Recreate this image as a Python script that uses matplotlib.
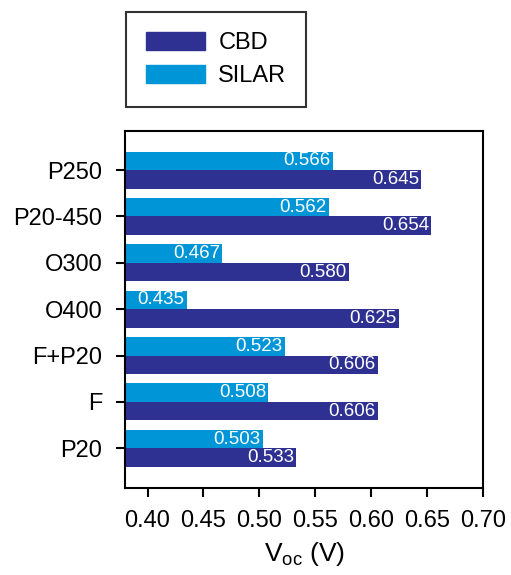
import numpy as np
import matplotlib.pyplot as plt
from matplotlib.patches import Patch

plt.rcParams['font.family'] = ['Liberation Sans', 'DejaVu Sans']

categories = ['P250', 'P20-450', 'O300', 'O400', 'F+P20', 'F', 'P20']
cbd = [0.645, 0.654, 0.580, 0.625, 0.606, 0.606, 0.533]
silar = [0.566, 0.562, 0.467, 0.435, 0.523, 0.508, 0.503]
xticks = [0.40, 0.45, 0.50, 0.55, 0.60, 0.65, 0.70]

c_cbd = '#2e3192'
c_silar = '#0095d6'

fig = plt.figure(figsize=(5.11, 5.75), dpi=100)
ax = fig.add_axes([0.245, 0.151, 0.700, 0.621])

y = np.arange(len(categories))[::-1]
h = 0.4
left = 0.38

ax.barh(y + h / 2, np.array(silar) - left, h, left=left, color=c_silar)
ax.barh(y - h / 2, np.array(cbd) - left, h, left=left, color=c_cbd)

# value labels inside the bar ends
for yi, v in zip(y, silar):
    ax.text(v - 0.002, yi + h / 2, f'{v:.3f}', color='white', fontsize=13.5,
            ha='right', va='center')
for yi, v in zip(y, cbd):
    ax.text(v - 0.002, yi - h / 2, f'{v:.3f}', color='white', fontsize=13.5,
            ha='right', va='center')

ax.set_xlim(0.38, 0.70)
ax.set_ylim(-0.86, 6.84)
ax.set_yticks(y)
ax.set_yticklabels(categories, fontsize=17)
ax.set_xticks(xticks)
ax.set_xticklabels([f'{t:.2f}' for t in xticks], fontsize=17)
ax.tick_params(direction='out', length=6.5, width=1.5)
ax.tick_params(axis='y', pad=10)
ax.tick_params(axis='x', pad=9)
for s in ax.spines.values():
    s.set_linewidth(1.5)
ax.set_xlabel('V$_\\mathregular{oc}$ (V)', fontsize=19, labelpad=6)

handles = [Patch(color=c_cbd, label='CBD'), Patch(color=c_silar, label='SILAR')]
leg = fig.legend(handles=handles, loc='upper left', bbox_to_anchor=(0.247, 0.979),
                 fontsize=17, frameon=True, fancybox=False, edgecolor='black',
                 handlelength=2.5, handleheight=0.8, borderpad=0.85,
                 labelspacing=0.45, handletextpad=0.55, borderaxespad=0)
leg.get_frame().set_linewidth(1.5)

fig.savefig('out.png', dpi=100)
